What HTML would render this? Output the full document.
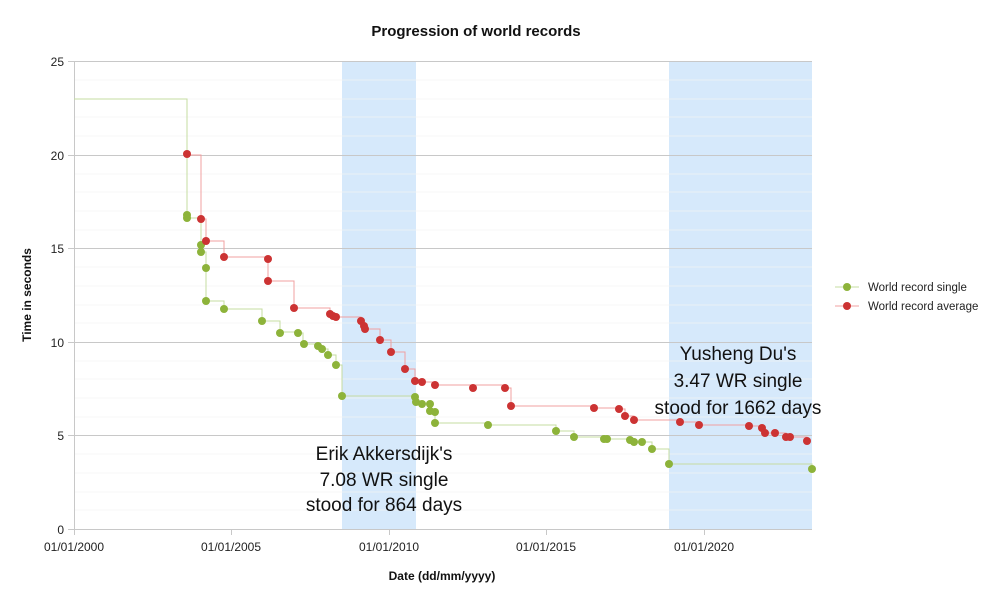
<!DOCTYPE html>
<html><head><meta charset="utf-8"><style>
body{margin:0;background:#fff}
svg{display:block;font-family:"Liberation Sans",sans-serif}
</style></head><body>
<svg width="1000" height="598" viewBox="0 0 1000 598">
<rect width="1000" height="598" fill="#fff"/>
<rect x="342" y="61" width="74" height="468" fill="#d6e9fb"/>
<rect x="669" y="61" width="143" height="468" fill="#d6e9fb"/>
<g stroke="#f5f5f5" stroke-width="1" opacity="0.7">
<line x1="74" x2="812" y1="80" y2="80"/><line x1="74" x2="812" y1="99" y2="99"/><line x1="74" x2="812" y1="117" y2="117"/><line x1="74" x2="812" y1="136" y2="136"/>
<line x1="74" x2="812" y1="174" y2="174"/><line x1="74" x2="812" y1="192" y2="192"/><line x1="74" x2="812" y1="211" y2="211"/><line x1="74" x2="812" y1="230" y2="230"/>
<line x1="74" x2="812" y1="267" y2="267"/><line x1="74" x2="812" y1="286" y2="286"/><line x1="74" x2="812" y1="305" y2="305"/><line x1="74" x2="812" y1="323" y2="323"/>
<line x1="74" x2="812" y1="361" y2="361"/><line x1="74" x2="812" y1="379" y2="379"/><line x1="74" x2="812" y1="398" y2="398"/><line x1="74" x2="812" y1="417" y2="417"/>
<line x1="74" x2="812" y1="454" y2="454"/><line x1="74" x2="812" y1="473" y2="473"/><line x1="74" x2="812" y1="492" y2="492"/><line x1="74" x2="812" y1="510" y2="510"/>
</g>
<g stroke="#c8c8c8" stroke-width="1">
<line x1="68" x2="812" y1="61.5" y2="61.5"/><line x1="68" x2="812" y1="155.5" y2="155.5"/><line x1="68" x2="812" y1="248.5" y2="248.5"/><line x1="68" x2="812" y1="342.5" y2="342.5"/><line x1="68" x2="812" y1="435.5" y2="435.5"/><line x1="68" x2="812" y1="529.5" y2="529.5"/>
<line x1="74.5" x2="74.5" y1="61" y2="535"/>
<line x1="231.5" x2="231.5" y1="529" y2="535"/><line x1="389.5" x2="389.5" y1="529" y2="535"/><line x1="546.5" x2="546.5" y1="529" y2="535"/><line x1="704.5" x2="704.5" y1="529" y2="535"/>
</g>
<g font-size="12" fill="#222" text-anchor="end">
<text x="64" y="66">25</text><text x="64" y="160">20</text><text x="64" y="253">15</text><text x="64" y="347">10</text><text x="64" y="440">5</text><text x="64" y="534">0</text>
</g>
<g font-size="12" fill="#222" text-anchor="middle">
<text x="74" y="551">01/01/2000</text><text x="231" y="551">01/01/2005</text><text x="389" y="551">01/01/2010</text><text x="546" y="551">01/01/2015</text><text x="704" y="551">01/01/2020</text>
</g>
<text x="476" y="36" font-size="15" font-weight="bold" text-anchor="middle" fill="#111">Progression of world records</text>
<text x="442" y="580" font-size="12" font-weight="bold" text-anchor="middle" fill="#111">Date (dd/mm/yyyy)</text>
<text transform="translate(31,295) rotate(-90)" font-size="12" font-weight="bold" text-anchor="middle" fill="#111">Time in seconds</text>
<polyline fill="none" stroke="#c5dca0" stroke-width="1" points="74,99 187,99 187,215 187,218 201,218 201,245 201,252 206,252 206,268 206,301 224,301 224,309 262,309 262,321 280,321 280,332 297,332 297,333 303,333 303,344 317,344 317,346 322,346 322,349 328,349 328,355 336,355 336,365 342,365 342,396 415,396 415,397 416,397 416,402 422,402 422,404 430,404 430,411 434,411 434,412 435,412 435,423 488,423 488,425 556,425 556,431 574,431 574,437 604,437 604,439 630,439 630,440 634,440 634,442 642,442 652,442 652,449 669,449 669,464 812,464 812,469"/>
<polyline fill="none" stroke="#f0a0a0" stroke-width="1" points="187,155 201,155 201,219 206,219 206,241 224,241 224,257 268,257 268,259 268,281 294,281 294,308 330,308 330,314 336,314 336,317 361,317 361,321 364,321 364,329 380,329 380,340 391,340 391,352 405,352 405,369 415,369 415,381 422,381 422,382 435,382 435,385 473,385 505,385 505,388 511,388 511,406 594,406 594,408 619,408 619,409 625,409 625,416 634,416 634,420 680,420 680,422 699,422 699,425 749,425 749,426 762,426 762,428 765,428 765,433 786,433 786,437 807,437 807,441"/>
<g fill="#8db33a">
<circle cx="187" cy="215" r="4"/><circle cx="187" cy="218" r="4"/><circle cx="201" cy="245" r="4"/><circle cx="201" cy="252" r="4"/><circle cx="206" cy="268" r="4"/><circle cx="206" cy="301" r="4"/><circle cx="224" cy="309" r="4"/><circle cx="262" cy="321" r="4"/><circle cx="280" cy="333" r="4"/><circle cx="298" cy="333" r="4"/><circle cx="304" cy="344" r="4"/><circle cx="318" cy="346" r="4"/><circle cx="322" cy="349" r="4"/><circle cx="328" cy="355" r="4"/><circle cx="336" cy="365" r="4"/><circle cx="342" cy="396" r="4"/><circle cx="415" cy="397" r="4"/><circle cx="416" cy="402" r="4"/><circle cx="422" cy="404" r="4"/><circle cx="430" cy="404" r="4"/><circle cx="430" cy="411" r="4"/><circle cx="435" cy="412" r="4"/><circle cx="435" cy="423" r="4"/><circle cx="488" cy="425" r="4"/><circle cx="556" cy="431" r="4"/><circle cx="574" cy="437" r="4"/><circle cx="604" cy="439" r="4"/><circle cx="607" cy="439" r="4"/><circle cx="630" cy="440" r="4"/><circle cx="634" cy="442" r="4"/><circle cx="642" cy="442" r="4"/><circle cx="652" cy="449" r="4"/><circle cx="669" cy="464" r="4"/><circle cx="812" cy="469" r="4"/>
</g>
<g fill="#cc3333">
<circle cx="187" cy="154" r="4"/><circle cx="201" cy="219" r="4"/><circle cx="206" cy="241" r="4"/><circle cx="224" cy="257" r="4"/><circle cx="268" cy="259" r="4"/><circle cx="268" cy="281" r="4"/><circle cx="294" cy="308" r="4"/><circle cx="330" cy="314" r="4"/><circle cx="333" cy="316" r="4"/><circle cx="336" cy="317" r="4"/><circle cx="361" cy="321" r="4"/><circle cx="364" cy="326" r="4"/><circle cx="365" cy="329" r="4"/><circle cx="380" cy="340" r="4"/><circle cx="391" cy="352" r="4"/><circle cx="405" cy="369" r="4"/><circle cx="415" cy="381" r="4"/><circle cx="422" cy="382" r="4"/><circle cx="435" cy="385" r="4"/><circle cx="473" cy="388" r="4"/><circle cx="505" cy="388" r="4"/><circle cx="511" cy="406" r="4"/><circle cx="594" cy="408" r="4"/><circle cx="619" cy="409" r="4"/><circle cx="625" cy="416" r="4"/><circle cx="634" cy="420" r="4"/><circle cx="680" cy="422" r="4"/><circle cx="699" cy="425" r="4"/><circle cx="749" cy="426" r="4"/><circle cx="762" cy="428" r="4"/><circle cx="765" cy="433" r="4"/><circle cx="775" cy="433" r="4"/><circle cx="786" cy="437" r="4"/><circle cx="790" cy="437" r="4"/><circle cx="807" cy="441" r="4"/>
</g>
<g font-size="19" fill="#111" text-anchor="middle">
<text x="384" y="460">Erik Akkersdijk's</text><text x="384" y="486">7.08 WR single</text><text x="384" y="511">stood for 864 days</text>
<text x="738" y="360">Yusheng Du's</text><text x="738" y="387">3.47 WR single</text><text x="738" y="414">stood for 1662 days</text>
</g>
<line x1="835" x2="859" y1="287" y2="287" stroke="#c5dca0"/><circle cx="847" cy="287" r="4" fill="#8db33a"/>
<line x1="835" x2="859" y1="306" y2="306" stroke="#f0a0a0"/><circle cx="847" cy="306" r="4" fill="#cc3333"/>
<text x="868" y="291" font-size="11.5" fill="#222">World record single</text>
<text x="868" y="310" font-size="11.5" fill="#222">World record average</text>
</svg>
</body></html>
